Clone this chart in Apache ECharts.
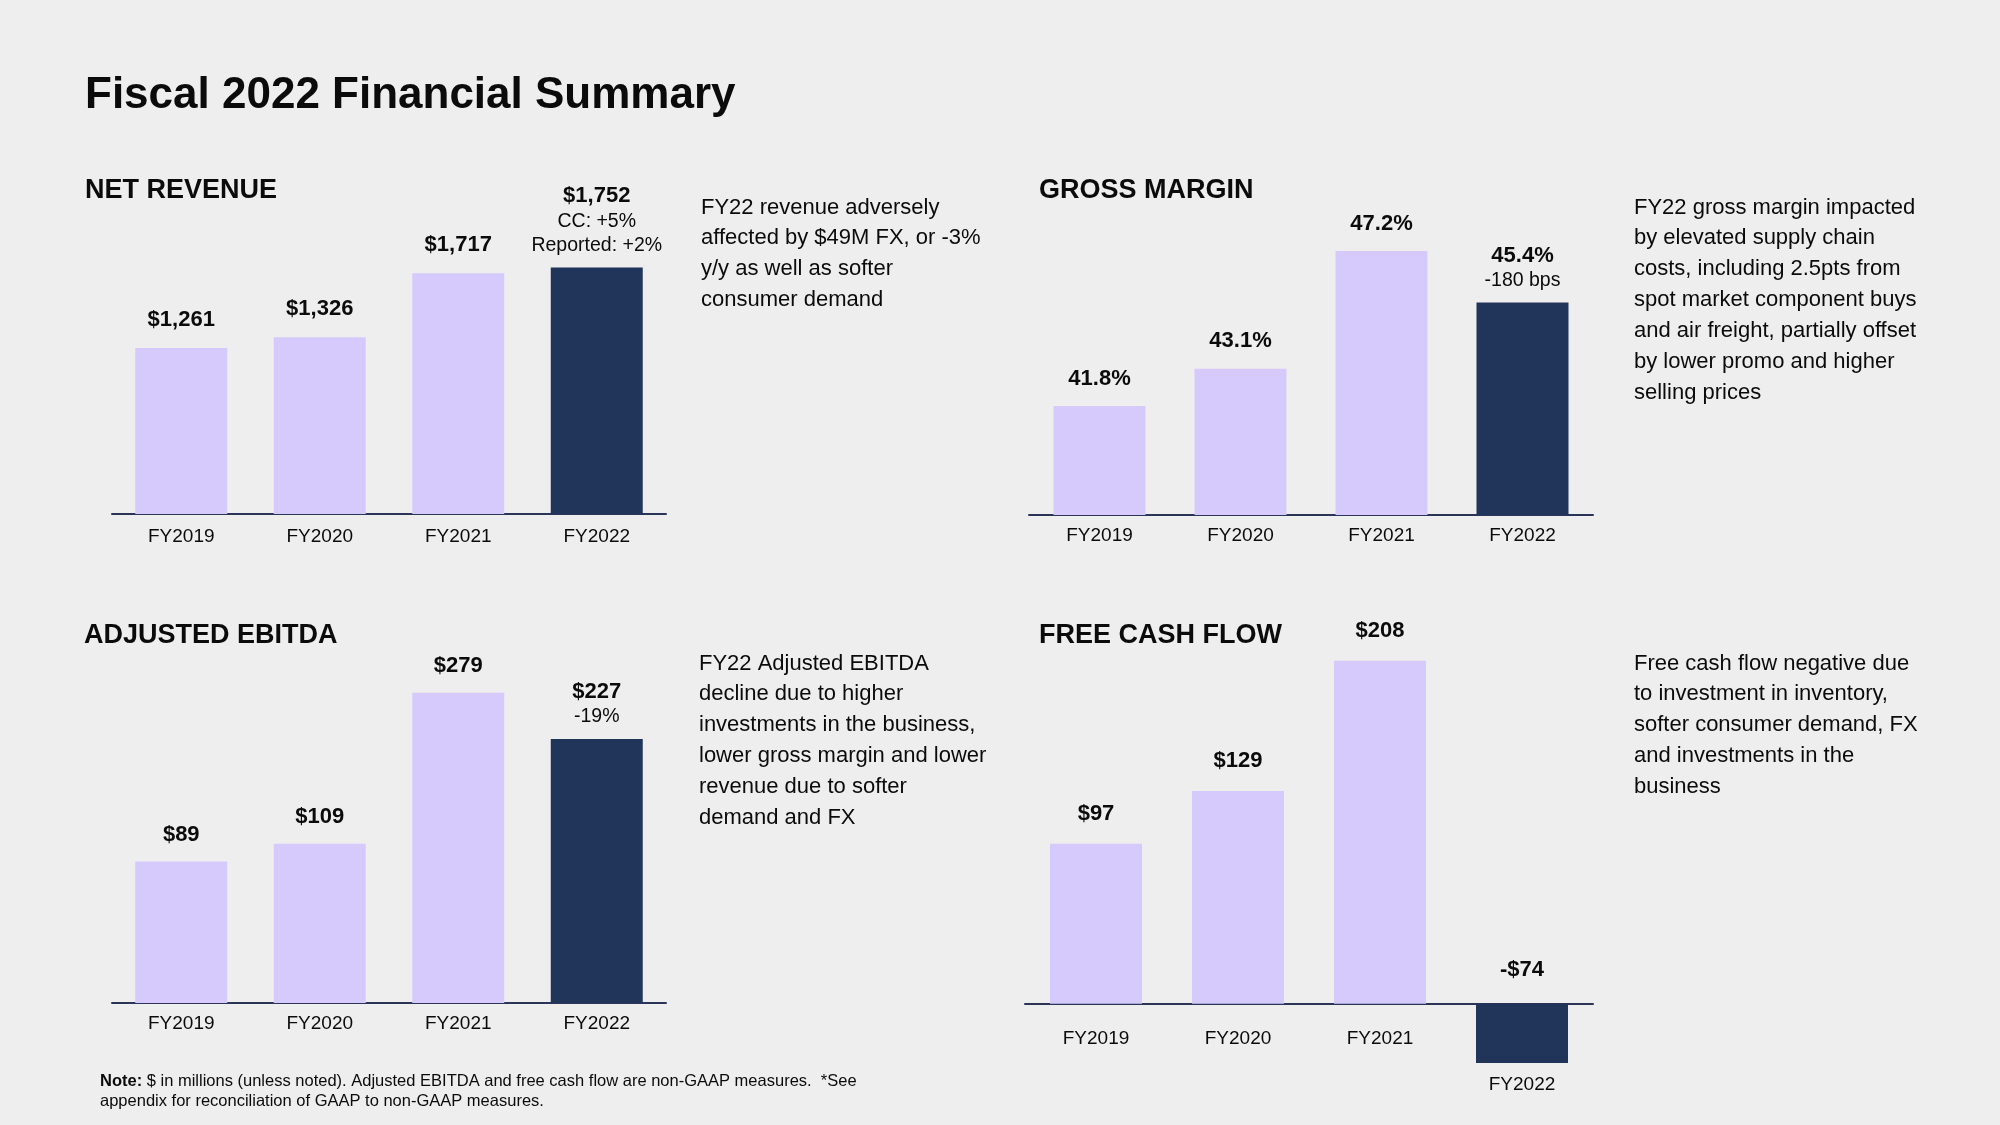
<!DOCTYPE html>
<html>
<head>
<meta charset="utf-8">
<script src="https://cdn.jsdelivr.net/npm/echarts@6/dist/echarts.min.js"></script>
<style>
html,body{margin:0;padding:0;background:#eeeeee;}
#c{width:2000px;height:1125px;}
</style>
</head>
<body>
<div id="c"></div>
<script>
// ---------- data ----------
const categories = ['FY2019', 'FY2020', 'FY2021', 'FY2022'];
const netRevenue = [1261, 1326, 1717, 1752];
const grossMargin = [41.8, 43.1, 47.2, 45.4];
const adjustedEbitda = [89, 109, 279, 227];
const freeCashFlow = [97, 129, 208, -74];
const revenueNotes = ['', '', '', 'CC: +5%\nReported: +2%'];
const marginNotes = ['', '', '', '-180 bps'];
const ebitdaNotes = ['', '', '', '-19%'];
const fcfNotes = ['', '', '', ''];

const pageTitle = 'Fiscal 2022 Financial Summary';
const panelTitles = ['NET REVENUE', 'GROSS MARGIN', 'ADJUSTED EBITDA', 'FREE CASH FLOW'];
const commentary = [
  ['FY22 revenue adversely', 'affected by $49M FX, or -3%', 'y/y as well as softer', 'consumer demand'],
  ['FY22 gross margin impacted', 'by elevated supply chain', 'costs, including 2.5pts from', 'spot market component buys', 'and air freight, partially offset', 'by lower promo and higher', 'selling prices'],
  ['FY22 Adjusted EBITDA', 'decline due to higher', 'investments in the business,', 'lower gross margin and lower', 'revenue due to softer', 'demand and FX'],
  ['Free cash flow negative due', 'to investment in inventory,', 'softer consumer demand, FX', 'and investments in the', 'business']
];
const footnoteBold = 'Note:';
const footnoteLines = [
  ' $ in millions (unless noted). Adjusted EBITDA and free cash flow are non-GAAP measures.  *See',
  'appendix for reconciliation of GAAP to non-GAAP measures.'
];

// ---------- styling ----------
const FONT = '"Liberation Sans", Arial, Helvetica, sans-serif';
const LIGHT = '#D5CAFB';
const DARK = '#21345A';
const AXIS = '#2A3558';
const INK = '#0b0b0b';
const BAR_W = 92;

const money = v => (v < 0 ? '-$' : '$') + Math.abs(v).toLocaleString('en-US');
const pct = v => v.toFixed(1) + '%';

const panels = [
  { values: netRevenue, notes: revenueNotes, fmt: money, grid: { left: 112, width: 554, top: 259.5, bottom: 611 }, min: 250, max: 1800, margin: 13, plain: 15 },
  { values: grossMargin, notes: marginNotes, fmt: pct, grid: { left: 1029, width: 564, top: 228, bottom: 610 }, min: 38, max: 48, margin: 11, plain: 14.5 },
  { values: adjustedEbitda, notes: ebitdaNotes, fmt: money, grid: { left: 112, width: 554, top: 674, bottom: 122 }, min: -70, max: 300, fromAxisMin: true, margin: 11, plain: 14 },
  { values: freeCashFlow, notes: fcfNotes, fmt: money, grid: { left: 1025, width: 568, top: 641, bottom: 62 }, min: -74, max: 220, margin: -34, plain: 17, onZero: true,
    breaks: [{ start: -60, end: -22, gap: 0 }] }
];

const last = categories.length - 1;

const richB = { fontFamily: FONT, fontSize: 22, fontWeight: 'bold', lineHeight: 26, align: 'center' };
const richS = { fontFamily: FONT, fontSize: 19.5, lineHeight: 24, align: 'center' };

function labelText(p, idx, v) {
  const note = p.notes[idx];
  let s = '{b|' + p.fmt(v) + '}';
  if (note) s += '\n' + note.split('\n').map(t => '{s|' + t + '}').join('\n');
  return s;
}

function makeSeries(p, gi) {
  if (p.fromAxisMin) {
    // bars drawn from the (truncated) bottom of the value axis, as in the source slide
    return {
      type: 'custom',
      xAxisIndex: gi,
      yAxisIndex: gi,
      encode: { x: 0, y: 1 },
      data: p.values.map((v, i) => [i, v]),
      renderItem: (params, api) => {
        const idx = api.value(0);
        const v = api.value(1);
        const topPt = api.coord([idx, v]);
        const basePt = api.coord([idx, p.min]);
        return {
          type: 'rect',
          shape: { x: topPt[0] - BAR_W / 2, y: topPt[1], width: BAR_W, height: basePt[1] - topPt[1] },
          style: { fill: idx === last ? DARK : LIGHT },
          textContent: {
            style: {
              text: labelText(p, idx, v),
              fill: INK,
              align: 'center',
              rich: { b: Object.assign({ fill: INK }, richB), s: Object.assign({ fill: INK }, richS) }
            }
          },
          textConfig: { position: 'top', distance: p.notes[idx] ? 10 : p.plain }
        };
      }
    };
  }
  return {
    type: 'bar',
    xAxisIndex: gi,
    yAxisIndex: gi,
    barWidth: BAR_W,
    data: p.values.map((v, i) => ({
      value: v,
      itemStyle: { color: i === last ? DARK : LIGHT },
      label: { distance: p.notes[i] ? 10 : (v < 0 ? 21 : p.plain) }
    })),
    label: {
      show: true,
      position: 'top',
      color: INK,
      formatter: prm => labelText(p, prm.dataIndex, prm.value),
      rich: { b: Object.assign({ color: INK }, richB), s: Object.assign({ color: INK }, richS) }
    }
  };
}

const option = {
  backgroundColor: '#eeeeee',
  animation: false,
  textStyle: { fontFamily: FONT },
  grid: panels.map(p => Object.assign({ containLabel: false }, p.grid)),
  xAxis: panels.map((p, gi) => ({
    type: 'category',
    gridIndex: gi,
    data: categories,
    axisLine: { show: true, onZero: !!p.onZero, lineStyle: { color: AXIS, width: 2 } },
    axisTick: { show: false },
    splitLine: { show: false },
    axisLabel: {
      interval: 0,
      hideOverlap: false,
      fontFamily: FONT, fontSize: 19, color: INK, margin: p.margin,
      formatter: (v, i) => (p.values[i] < 0 ? '{neg|' + v + '}' : v),
      rich: { neg: { fontFamily: FONT, fontSize: 19, color: INK, padding: [46, 0, 0, 0] } }
    }
  })),
  yAxis: panels.map((p, gi) => {
    const ax = { type: 'value', gridIndex: gi, min: p.min, max: p.max, show: false, splitLine: { show: false } };
    if (p.breaks) {
      ax.breaks = p.breaks;
      ax.breakArea = { show: false };
    }
    return ax;
  }),
  series: panels.map(makeSeries),
  graphic: []
};

const g = option.graphic;
g.push({ type: 'text', x: 85, y: 74, style: { text: pageTitle, font: 'bold 44px ' + FONT, fill: INK } });
const titlePos = [[85, 177], [1039, 177], [84, 622], [1039, 622]];
panelTitles.forEach((t, i) => {
  g.push({ type: 'text', x: titlePos[i][0], y: titlePos[i][1], style: { text: t, font: 'bold 27px ' + FONT, fill: INK } });
});
const commentPos = [[701, 192], [1634, 192], [699, 648], [1634, 648]];
commentary.forEach((lines, i) => {
  g.push({ type: 'text', x: commentPos[i][0], y: commentPos[i][1],
    style: { text: lines.join('\n'), font: '22px ' + FONT, fill: INK, lineHeight: 30.9 } });
});
g.push({ type: 'text', x: 100, y: 1072,
  style: {
    text: '{nb|' + footnoteBold + '}{n|' + footnoteLines[0] + '}\n{n|' + footnoteLines[1] + '}',
    rich: {
      nb: { fontFamily: FONT, fontSize: 16.5, fontWeight: 'bold', fill: INK, lineHeight: 19.5 },
      n: { fontFamily: FONT, fontSize: 16.5, fill: INK, lineHeight: 19.5 }
    }
  } });

const chart = echarts.init(document.getElementById('c'));
chart.setOption(option);
</script>
</body>
</html>
